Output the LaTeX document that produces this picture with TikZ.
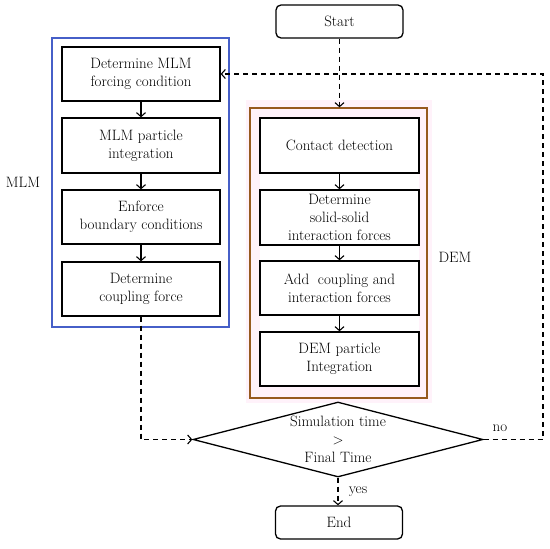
\documentclass[tikz,border=0pt]{standalone}
\usepackage{fontspec}
\usetikzlibrary{arrows.meta,shapes.geometric}
\definecolor{mlmblue}{RGB}{70,95,200}
\definecolor{dembrown}{RGB}{150,90,30}
\definecolor{dempink}{RGB}{255,242,250}
\begin{document}
\begin{tikzpicture}[x=1pt,y=-1pt,
  font=\fontsize{15}{18}\selectfont,
  box/.style={draw=black, line width=1.3pt, align=center, inner sep=0pt},
  term/.style={box, rounded corners=5pt, minimum width=127, minimum height=33},
  frame/.style={line width=1.3pt, inner sep=0pt},
  arr/.style={line width=1.1pt, -{Straight Barb[length=4pt,width=9pt,line width=1.1pt]}},
  dsh/.style={dash pattern=on 5pt off 4pt}
]
\useasboundingbox (0,0) rectangle (550,549);
% frames
\fill[dempink] (246,100) rectangle (432,403);
\node[frame, draw=mlmblue, minimum width=177, minimum height=289] (mlmframe) at (140.5,182.5) {};
\node[frame, draw=dembrown, minimum width=177, minimum height=290] (demframe) at (338.5,253) {};
\fill[white] (260,118) rectangle (419,386);
% terminals
\node[term] (start) at (339.5,21.5) {Start};
\node[term] (end) at (339,522.5) {End};
% MLM boxes
\node[box, minimum width=158, minimum height=54] (m1) at (141,74) {Determine MLM\\forcing condition};
\node[box, minimum width=158, minimum height=55] (m2) at (141,145.5) {MLM particle\\integration};
\node[box, minimum width=158, minimum height=54] (m3) at (141,217) {Enforce\\boundary conditions};
\node[box, minimum width=158, minimum height=54] (m4) at (141,289) {Determine\\coupling force};
% DEM boxes
\node[box, minimum width=159, minimum height=55] (d1) at (339.5,145.5) {Contact detection};
\node[box, minimum width=159, minimum height=55] (d2) at (339.5,217.5) {Determine\\solid-solid\\interaction forces};
\node[box, minimum width=159, minimum height=54] (d3) at (339.5,288) {Add\; coupling and\\interaction forces};
\node[box, minimum width=159, minimum height=54] (d4) at (339.5,359) {DEM particle\\Integration};
% decision
\node[draw=black, line width=1.3pt, diamond, inner sep=0pt, minimum width=290, minimum height=75] (dia) at (338,439.5) {};
\node[align=center] (diatext) at (dia.center) {Simulation time\\$>$\\Final Time};
% labels
\node (mlmlabel) at (23,182) {MLM};
\node (demlabel) at (455,257) {DEM};
\node (nolabel) at (500,428) {no};
\node (yeslabel) at (358,492) {yes};
% solid arrows
\draw[arr] (m1) -- (m2);
\draw[arr] (m2) -- (m3);
\draw[arr] (m3) -- (m4);
\draw[arr] (d1.south) -- (d1.south |- d2.north);
\draw[arr] (d2.south) -- (d2.south |- d3.north);
\draw[arr] (d3.south) -- (d3.south |- d4.north);
% dashed connectors
\draw[arr, dsh] (start.south) -- (start.south |- demframe.north);
\draw[arr, dsh] (m4.south) -- (m4.south |- dia.west) -- (dia.west);
\coordinate (loopr) at (543,439.5);
\draw[arr, dsh] (dia.east) -- (loopr) -- (loopr |- m1.east) -- (m1.east);
\draw[arr, dsh] (dia.south) -- (dia.south |- end.north);
\end{tikzpicture}
\end{document}
